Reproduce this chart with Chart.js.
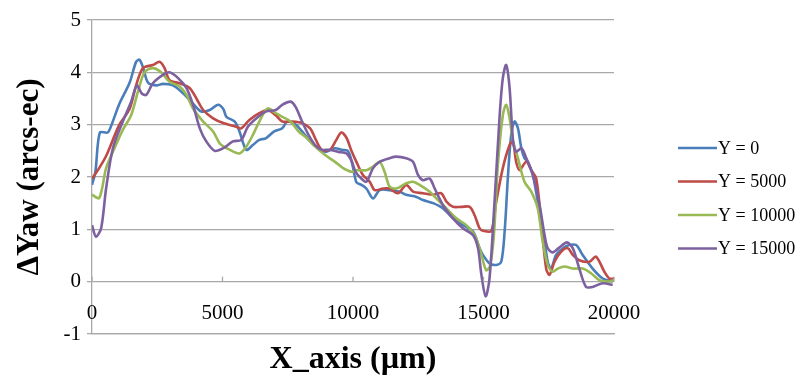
<!DOCTYPE html>
<html>
<head>
<meta charset="utf-8">
<script src="https://cdn.jsdelivr.net/npm/chart.js@4"></script>
<style>
  body { margin: 0; background: #fff; }
  #wrap { width: 803px; height: 383px; position: relative; }
</style>
</head>
<body>
<div id="wrap"><canvas id="yaw-chart"></canvas></div>
<script>
const COLORS = ["#4A7EBB", "#BE4B48", "#98B954", "#7D60A0"];
const LABELS = ["Y = 0", "Y = 5000", "Y = 10000", "Y = 15000"];
const X_TICKS = [0, 5000, 10000, 15000, 20000];
const Y_TICKS = [-1, 0, 1, 2, 3, 4, 5];

// [x (um), dYaw (arcs-ec)]
const seriesY0 = [
    [0,1.85],[130,2.1],[300,2.85],[600,2.85],[750,3.0],[1050,3.4],[1440,3.8],[1690,4.2],[1820,4.24],[1950,4.1],
    [2150,3.8],[2460,3.75],[2720,3.78],[3100,3.75],[3490,3.6],[3870,3.4],[4190,3.25],[4510,3.28],[4830,3.38],[5030,3.3],
    [5150,3.15],[5470,3.06],[5650,2.87],[5910,2.52],[6160,2.61],[6410,2.71],[6660,2.74],[6980,2.87],[7290,2.93],[7480,3.06],
    [7800,3.0],[8050,2.87],[8360,2.68],[8680,2.55],[8930,2.48],[9310,2.55],[9560,2.52],[9800,2.5],[9950,2.3],[10130,1.9],
    [10320,1.85],[10510,1.78],[10770,1.59],[11020,1.75],[11400,1.75],[11790,1.72],[12040,1.66],[12430,1.62],[12680,1.56],[13070,1.5],
    [13450,1.4],[13830,1.21],[14210,1.08],[14600,0.96],[14850,0.64],[14980,0.51],[15230,0.35],[15490,0.32],[15680,0.38],[15810,0.96],
    [15940,2.04],[16060,2.8],[16190,3.06],[16320,2.93],[16450,2.55],[16570,2.36],[16700,2.29],[16890,2.04],[17080,1.53],[17270,1.02],
    [17460,0.38],[17590,0.25],[17780,0.51],[18040,0.64],[18290,0.7],[18550,0.7],[18800,0.51],[19180,0.25],[19570,0.06],[19950,0]
];
const seriesY5000 = [
    [0,1.97],[250,2.15],[540,2.4],[1050,3.0],[1440,3.3],[1690,3.75],[1950,4.08],[2330,4.14],[2590,4.2],[2780,4.08],
    [2970,3.85],[3360,3.79],[3740,3.7],[4000,3.5],[4260,3.28],[4640,3.12],[5030,3.03],[5530,2.96],[5720,2.93],[6030,3.09],
    [6410,3.22],[6730,3.28],[7040,3.18],[7290,3.06],[7670,3.06],[8050,3.03],[8360,2.93],[8550,2.74],[8800,2.52],[9120,2.52],
    [9350,2.7],[9550,2.85],[9750,2.75],[9940,2.5],[10130,2.29],[10380,2.04],[10640,1.91],[10830,1.75],[11150,1.78],[11400,1.78],
    [11720,1.69],[12040,1.85],[12300,1.72],[12680,1.69],[13070,1.66],[13380,1.69],[13580,1.53],[13830,1.43],[14150,1.43],[14470,1.43],
    [14660,1.27],[14850,1.02],[15000,0.97],[15300,0.97],[15490,1.53],[15740,2.17],[16000,2.61],[16130,2.68],[16250,2.29],[16380,2.13],
    [16640,2.29],[16830,2.13],[17020,1.97],[17210,1.15],[17400,0.25],[17530,0.13],[17720,0.38],[17970,0.57],[18230,0.64],[18420,0.51],
    [18670,0.41],[19060,0.38],[19310,0.48],[19630,0.19],[19820,0.06],[20000,0.06]
];
const seriesY10000 = [
    [0,1.66],[280,1.6],[540,2.17],[800,2.48],[1180,2.9],[1500,3.18],[1760,3.63],[2010,4.0],[2330,4.08],[2650,4.0],
    [2970,3.82],[3360,3.73],[3620,3.57],[3870,3.31],[4260,3.06],[4640,2.87],[4900,2.64],[5280,2.52],[5650,2.45],[5910,2.58],
    [6160,2.8],[6410,3.06],[6730,3.31],[7040,3.22],[7290,3.15],[7610,3.06],[7920,2.87],[8240,2.74],[8550,2.58],[8930,2.42],
    [9310,2.29],[9620,2.17],[9940,2.1],[10130,2.13],[10510,2.13],[10770,2.2],[11020,2.29],[11210,2.1],[11400,1.82],[11660,1.78],
    [12040,1.88],[12300,1.91],[12550,1.85],[12940,1.72],[13190,1.59],[13580,1.4],[13960,1.21],[14340,1.08],[14660,0.89],[14900,0.55],
    [15100,0.22],[15250,0.3],[15400,0.9],[15550,2.23],[15740,3.18],[15870,3.38],[16000,3.12],[16130,2.68],[16320,2.36],[16570,1.91],
    [16830,1.72],[17080,1.4],[17270,0.76],[17460,0.32],[17650,0.19],[17850,0.25],[18100,0.29],[18420,0.25],[18800,0.25],[19120,0.16],
    [19440,0.03],[19760,0],[20000,0.03]
];
const seriesY15000 = [
    [0,1.08],[150,0.86],[350,1.02],[540,1.78],[800,2.55],[1180,3.06],[1500,3.44],[1720,3.75],[1900,3.6],[2080,3.57],
    [2330,3.79],[2720,3.95],[2970,4.0],[3300,3.89],[3620,3.7],[3870,3.38],[4130,2.93],[4380,2.68],[4700,2.5],[5030,2.55],
    [5400,2.68],[5720,2.71],[5970,2.96],[6290,3.12],[6660,3.25],[7040,3.28],[7290,3.38],[7610,3.44],[7800,3.34],[8050,3.06],
    [8300,2.8],[8550,2.61],[8800,2.52],[9120,2.52],[9440,2.48],[9750,2.45],[9950,2.3],[10100,2.1],[10300,1.98],[10510,1.91],
    [10770,2.17],[11020,2.29],[11400,2.36],[11660,2.39],[12040,2.36],[12300,2.29],[12490,2.04],[12680,1.94],[12940,1.97],[13130,1.78],
    [13450,1.46],[13830,1.21],[14210,1.02],[14600,0.89],[14790,0.64],[14920,0.13],[15080,-0.28],[15230,0.06],[15430,1.59],[15620,3.18],
    [15740,3.89],[15870,4.14],[16000,3.7],[16130,2.7],[16250,2.48],[16450,2.55],[16640,2.36],[16890,2.04],[17150,1.46],[17340,0.89],
    [17460,0.64],[17650,0.56],[17900,0.65],[18200,0.75],[18420,0.64],[18670,0.25],[18930,-0.1],[19180,-0.1],[19570,-0.03],[19950,-0.06]
];

const ALL_SERIES = [seriesY0, seriesY5000, seriesY10000, seriesY15000];
const GRID = "#a8a8a8";
const SERIF = "'Liberation Serif', 'Times New Roman', serif";

// x labels sit just under the zero line, legend drawn by hand on the right
const extrasPlugin = {
    id: "extras",
    afterDraw(chart) {
        const ctx = chart.ctx;
        const xs = chart.scales.x;
        const ys = chart.scales.y;
        const zeroY = ys.getPixelForValue(0);

        ctx.save();
        ctx.strokeStyle = GRID;
        ctx.lineWidth = 1.3;
        ctx.fillStyle = "#000";
        ctx.font = "21px " + SERIF;
        ctx.textAlign = "center";
        ctx.textBaseline = "middle";
        for (const v of X_TICKS) {
            const px = xs.getPixelForValue(v);
            ctx.beginPath();
            ctx.moveTo(px, zeroY - 5);
            ctx.lineTo(px, zeroY);
            ctx.stroke();
            ctx.fillText(String(v), px, zeroY + 32);
        }

        ctx.font = "18px " + SERIF;
        ctx.textAlign = "left";
        chart.data.datasets.forEach(function (ds, i) {
            const ly = 148 + i * 33.5;
            ctx.strokeStyle = ds.borderColor;
            ctx.lineWidth = 2.5;
            ctx.beginPath();
            ctx.moveTo(678, ly);
            ctx.lineTo(717, ly);
            ctx.stroke();
            ctx.fillText(ds.label, 718, ly + 1);
        });
        ctx.restore();
    }
};

new Chart(document.getElementById("yaw-chart"), {
    type: "line",
    data: {
        datasets: ALL_SERIES.map(function (s, i) {
            return {
                label: LABELS[i],
                data: s.map(p => ({ x: p[0], y: p[1] })),
                borderColor: COLORS[i],
                backgroundColor: COLORS[i],
                borderWidth: 2.6,
                pointRadius: 0,
                tension: 0.3,
                fill: false,
                order: 4 - i
            };
        })
    },
    options: {
        responsive: true,
        maintainAspectRatio: false,
        animation: false,
        layout: { padding: { top: 20, right: 189, left: 0, bottom: 0 } },
        plugins: {
            legend: { display: false },
            tooltip: { enabled: false }
        },
        scales: {
            x: {
                type: "linear",
                min: 0,
                max: 20000,
                ticks: { display: false, stepSize: 5000 },
                grid: { display: false },
                border: { display: true, color: GRID, width: 1.3 },
                title: {
                    display: true,
                    text: "X_axis (\u00b5m)",
                    color: "#000",
                    font: { family: SERIF, size: 32, weight: "bold" },
                    padding: { top: 0, bottom: 4 }
                },
                afterFit(scale) { scale.height = 49; }
            },
            y: {
                min: -1,
                max: 5,
                afterBuildTicks(scale) { scale.ticks = Y_TICKS.map(v => ({ value: v })); },
                ticks: {
                    color: "#000",
                    font: { family: SERIF, size: 21 },
                    padding: 6
                },
                grid: { color: GRID, lineWidth: 1.3, tickLength: 5 },
                border: { display: true, color: GRID, width: 1.3 },
                title: {
                    display: true,
                    text: "\u0394Yaw (arcs-ec)",
                    color: "#000",
                    font: { family: SERIF, size: 31, weight: "bold" },
                    padding: { top: 11, bottom: 0 }
                },
                afterFit(scale) { scale.width = 92; }
            }
        }
    },
    plugins: [extrasPlugin]
});
</script>
</body>
</html>
